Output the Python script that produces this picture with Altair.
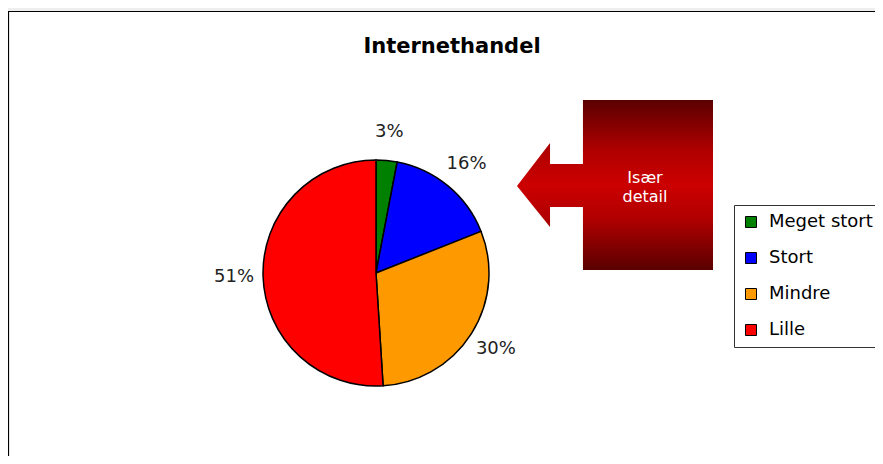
import altair as alt
import pandas as pd

# ---- data ----
categories = ["Meget stort", "Stort", "Mindre", "Lille"]
values = [3, 16, 30, 51]
labels = ["3%", "16%", "30%", "51%"]
colors = ["#008000", "#0000ff", "#ff9900", "#ff0000"]
title_text = "Internethandel"
callout_lines = ["Især", "detail"]

df = pd.DataFrame({
    "kategori": categories,
    "andel": values,
    "label": labels,
    "orden": list(range(len(categories))),
})

W, H = 867, 448
CX, CY, R = 368, 265, 113
one = alt.Data(values=[{"a": 1}])

color_scale = alt.Scale(domain=categories, range=colors)

# background strip and frame
strip = alt.Chart(one).mark_rect(color="#eeeeee").encode(
    x=alt.value(0), x2=alt.value(W), y=alt.value(0), y2=alt.value(3)
)
frame = alt.Chart(one).mark_rect(fill="white", stroke="black", strokeWidth=1.2).encode(
    x=alt.value(0.5), x2=alt.value(W + 40), y=alt.value(3.5), y2=alt.value(H + 40)
)

title = alt.Chart(one).mark_text(
    text=title_text, font="DejaVu Sans", fontSize=21, fontWeight="bold",
    color="black", align="center", baseline="alphabetic"
).encode(x=alt.value(444), y=alt.value(45))

base = alt.Chart(df).encode(
    theta=alt.Theta("andel:Q", stack=True),
    order=alt.Order("orden:Q"),
)
pie = base.mark_arc(outerRadius=R, stroke="black", strokeWidth=1.5).encode(
    x=alt.value(CX),
    y=alt.value(CY),
    color=alt.Color(
        "kategori:N",
        scale=color_scale,
        legend=alt.Legend(
            title=None, orient="none", legendX=726, legendY=197,
            strokeColor="#333", fillColor="white", padding=8,
            symbolType="square", symbolSize=121, symbolStrokeColor="black",
            symbolStrokeWidth=1, labelFont="DejaVu Sans", labelFontSize=18,
            labelColor="black", rowPadding=18, labelOffset=9, cornerRadius=0,
        ),
    ),
)
pie_labels = base.mark_text(
    radius=142, font="DejaVu Sans", fontSize=18, color="#222",
    align="center", baseline="middle"
).encode(
    x=alt.value(CX), y=alt.value(CY), text="label:N", detail="kategori:N"
)

gradient = {
    "gradient": "linear", "x1": 0, "y1": 0, "x2": 0, "y2": 1,
    "stops": [
        {"offset": 0, "color": "#5a0000"},
        {"offset": 0.3, "color": "#b00000"},
        {"offset": 0.5, "color": "#cc0000"},
        {"offset": 0.7, "color": "#b00000"},
        {"offset": 1, "color": "#5a0000"},
    ],
}
arrow_path = (
    "M -1 0.01 L -0.663 -0.429 L -0.663 -0.214 L -0.327 -0.214 L -0.327 -0.867 "
    "L 1 -0.867 L 1 0.867 L -0.327 0.867 L -0.327 0.224 L -0.663 0.224 "
    "L -0.663 0.429 Z"
)
callout = alt.Chart(one).mark_point(
    shape=arrow_path, filled=True, fill=gradient, opacity=1, strokeWidth=0
).encode(x=alt.value(607), y=alt.value(177), size=alt.value(38416))

callout_text = alt.Chart(one).mark_text(
    text="\n".join(callout_lines), lineBreak="\n", lineHeight=19,
    font="DejaVu Sans", fontSize=16, color="white", align="center",
    baseline="alphabetic"
).encode(x=alt.value(637), y=alt.value(175))

chart = alt.layer(strip, frame, title, pie, pie_labels, callout, callout_text).properties(
    width=W, height=H, autosize=alt.AutoSizeParams(type="none"), padding=0,
    background="white"
).configure_view(stroke=None)

chart.save("out.html", embed_options={"renderer": "svg", "actions": False})
